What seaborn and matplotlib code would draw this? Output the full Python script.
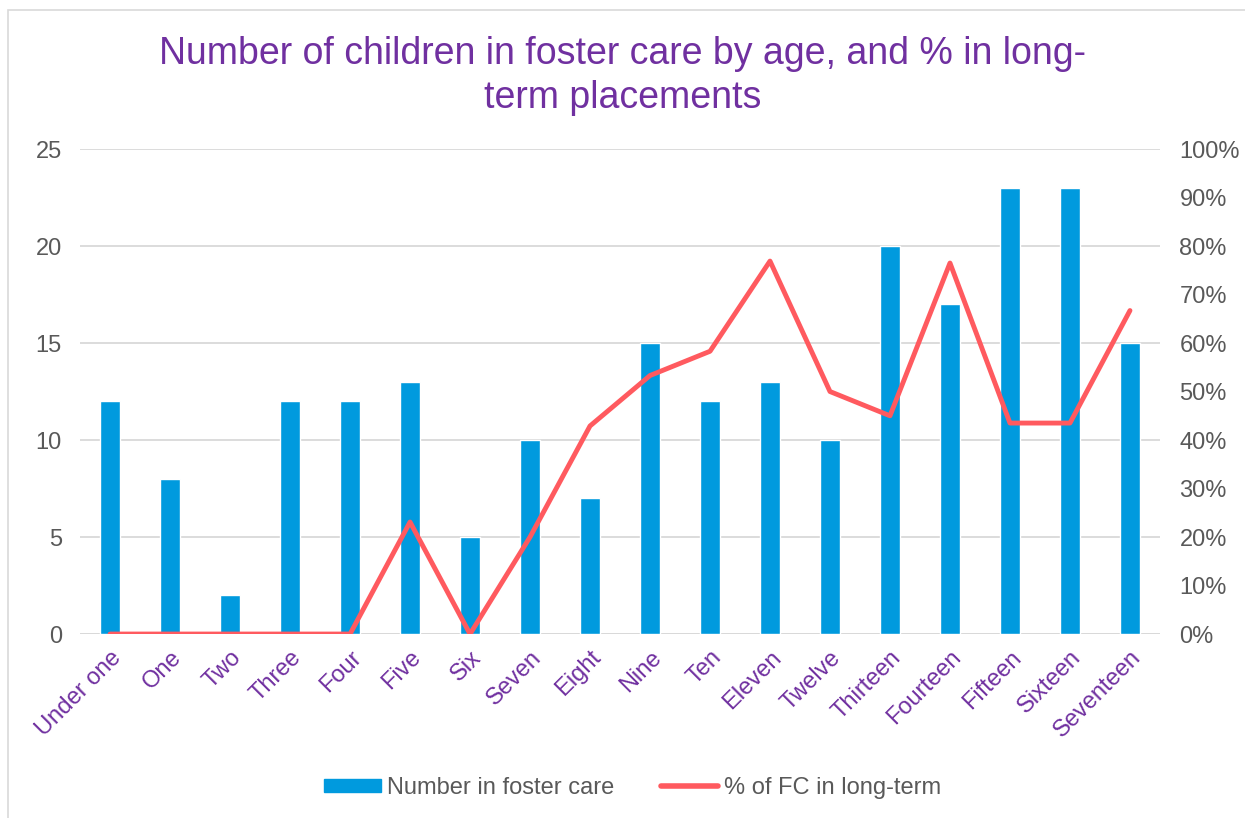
import matplotlib
matplotlib.use("Agg")
import matplotlib.pyplot as plt
from matplotlib.patches import Rectangle
from matplotlib.lines import Line2D
from matplotlib.ticker import PercentFormatter
import seaborn as sns
import pandas as pd

ages = ["Under one", "One", "Two", "Three", "Four", "Five", "Six", "Seven", "Eight",
        "Nine", "Ten", "Eleven", "Twelve", "Thirteen", "Fourteen", "Fifteen",
        "Sixteen", "Seventeen"]
number_in_fc = [12, 8, 2, 12, 12, 13, 5, 10, 7, 15, 12, 13, 10, 20, 17, 23, 23, 15]
pct_long_term = [0, 0, 0, 0, 0, 23.1, 0, 20.0, 42.9, 53.3, 58.3, 76.9, 50.0, 45.0,
                 76.5, 43.5, 43.5, 66.7]

BAR_COLOR = "#009ADE"
LINE_COLOR = "#FF5A5F"
PURPLE = "#7030A0"
GREY = "#595959"
GRID = "#D9D9D9"

df = pd.DataFrame({"age": ages, "count": number_in_fc, "pct": pct_long_term})

sns.set_theme(style="white")
plt.rcParams["font.family"] = ["Liberation Sans", "DejaVu Sans"]

fig = plt.figure(figsize=(12.45, 8.18), dpi=100)
ax = fig.add_axes([0.0643, 0.2249, 0.8674, 0.5929])

# outer frame of the chart area
fig.patches.append(Rectangle((8 / 1245, -0.05), 1.2, 1 - 10 / 818 + 0.05,
                             transform=fig.transFigure, fill=False,
                             edgecolor="#D9D9D9", linewidth=1.2, zorder=0))

sns.barplot(data=df, x="age", y="count", color=BAR_COLOR, width=0.32,
            saturation=1, ax=ax, zorder=2)
ax.set_ylim(0, 25)
ax.set_yticks([0, 5, 10, 15, 20, 25])
ax.set_xlim(-0.5, len(ages) - 0.5)
ax.yaxis.grid(True, color=GRID, linewidth=1.3)
ax.set_axisbelow(True)
for s in ax.spines.values():
    s.set_visible(False)
ax.set_xlabel("")
ax.set_ylabel("")
ax.tick_params(axis="y", colors=GREY, labelsize=17, length=0, pad=13)
ax.tick_params(axis="x", colors=PURPLE, labelsize=17, length=0, pad=9)
for lbl in ax.get_xticklabels():
    lbl.set_rotation(45)
    lbl.set_ha("right")
    lbl.set_rotation_mode("anchor")
ax.axhline(0, color=GRID, linewidth=1.3, zorder=1)

ax2 = ax.twinx()
sns.lineplot(data=df, x="age", y="pct", sort=False, color=LINE_COLOR,
             linewidth=3.5, ax=ax2, zorder=3)
ax2.set_ylim(0, 100)
ax2.set_yticks(range(0, 101, 10))
ax2.yaxis.set_major_formatter(PercentFormatter(decimals=0))
ax2.set_xlim(-0.5, len(ages) - 0.5)
for s in ax2.spines.values():
    s.set_visible(False)
ax2.set_ylabel("")
ax2.tick_params(axis="y", colors=GREY, labelsize=17, length=0, pad=14)

fig.text(0.5, 1 - 76 / 818,
         "Number of children in foster care by age, and % in long-\nterm placements",
         ha="center", va="center", color=PURPLE, fontsize=27, linespacing=1.3)

handles = [Rectangle((0, 0), 1, 1, color=BAR_COLOR),
           Line2D([0], [0], color=LINE_COLOR, linewidth=4, solid_capstyle="round")]
fig.legend(handles, ["Number in foster care", "% of FC in long-term"],
           loc="center", bbox_to_anchor=(0.5 + 10 / 1245, 1 - 788 / 818), ncol=2,
           frameon=False, fontsize=17, labelcolor=GREY, handlelength=2.4,
           handleheight=0.5, handletextpad=0.25, columnspacing=2.0)

fig.savefig("out.png", dpi=100)
